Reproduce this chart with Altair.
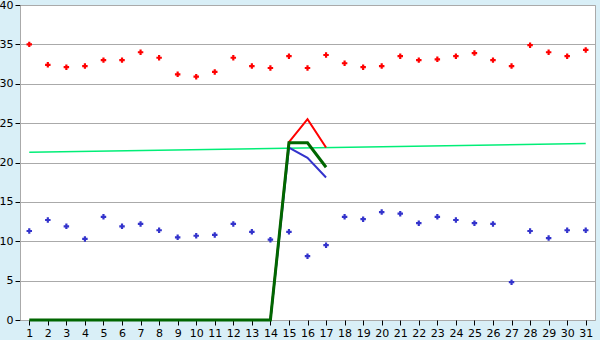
import altair as alt
import pandas as pd

days = list(range(1, 32))
red_pts = [35.0, 32.4, 32.1, 32.25, 33.0, 33.0, 34.0, 33.3, 31.2, 30.9, 31.5, 33.3, 32.25, 32.0, 33.5,
           32.0, 33.65, 32.6, 32.1, 32.25, 33.5, 33.0, 33.1, 33.5, 33.9, 33.0, 32.25, 34.9, 34.0, 33.5, 34.3]
blue_pts = [11.3, 12.7, 11.9, 10.3, 13.1, 11.9, 12.2, 11.4, 10.5, 10.7, 10.8, 12.2, 11.2, 10.2, 11.2,
            8.1, 9.5, 13.1, 12.8, 13.7, 13.5, 12.3, 13.1, 12.7, 12.3, 12.2, 4.8, 11.3, 10.4, 11.4, 11.4]

trend_x = [1, 31]
trend_y = [21.3, 22.4]

line_x = list(range(1, 18))
green_line = [0] * 14 + [22.5, 22.5, 19.4]
red_line_x = [14, 15, 16, 17]
red_line = [0, 22.6, 25.5, 21.9]
blue_line = [0, 21.9, 20.6, 18.1]

pts = pd.DataFrame({"day": days, "red": red_pts, "blue": blue_pts})
trend = pd.DataFrame({"day": trend_x, "v": trend_y})
gl = pd.DataFrame({"day": line_x, "v": green_line})
rl = pd.DataFrame({"day": red_line_x, "v": red_line})
bl = pd.DataFrame({"day": red_line_x, "v": blue_line})

x = alt.X("day:Q", scale=alt.Scale(domain=[0.5, 31.5], nice=False, zero=False),
          axis=alt.Axis(values=days, title=None, grid=False, domain=False, tickColor="#000000",
                        tickSize=5, labelFont="DejaVu Sans", labelFontSize=11, labelColor="#000000",
                        labelPadding=2, labelFlush=False))
yax = alt.Axis(values=[0, 5, 10, 15, 20, 25, 30, 35, 40], title=None, grid=True, gridColor="#aaaaaa",
               gridWidth=1, domain=True, domainColor="#aaaaaa", tickColor="#000000", tickSize=5,
               labelFont="DejaVu Sans", labelFontSize=11, labelColor="#000000", labelPadding=2)
ysc = alt.Scale(domain=[0, 40], nice=False)

def Y(field):
    return alt.Y(field, scale=ysc, axis=yax)

trend_layer = alt.Chart(trend).mark_line(color="#00ee77", strokeWidth=1.5).encode(x=x, y=Y("v:Q"))
red_l = alt.Chart(rl).mark_line(color="#ff0000", strokeWidth=2).encode(x=x, y=Y("v:Q"))
blue_l = alt.Chart(bl).mark_line(color="#3333cc", strokeWidth=2).encode(x=x, y=Y("v:Q"))
green_l = alt.Chart(gl).mark_line(color="#006600", strokeWidth=3).encode(x=x, y=Y("v:Q"))
red_p = alt.Chart(pts).mark_point(shape="cross", filled=True, size=30, color="#ff0000", opacity=1).encode(x=x, y=Y("red:Q"))
blue_p = alt.Chart(pts).mark_point(shape="cross", filled=True, size=30, color="#3333cc", opacity=1).encode(x=x, y=Y("blue:Q"))

chart = alt.layer(trend_layer, red_l, blue_l, green_l, red_p, blue_p).properties(
    width=575, height=315, background="#d9eff7",
    padding={"left": 20, "top": 5, "right": 5, "bottom": 20},
    autosize=alt.AutoSizeParams(type="none"),
).configure_view(fill="#ffffff", stroke="#aaaaaa", strokeWidth=1)

chart.save("out.html", embed_options={"renderer": "svg", "actions": False})
